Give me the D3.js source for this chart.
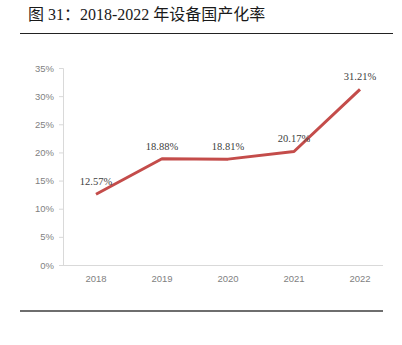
<!DOCTYPE html>
<html>
<head>
<meta charset="utf-8">
<script src="https://cdn.jsdelivr.net/npm/d3@7"></script>
<style>
  html, body { margin: 0; padding: 0; background: #fff; }
  svg { display: block; }
</style>
</head>
<body>
<svg id="chart" width="402" height="345"></svg>
<script>
// Domestic equipment localization rate, 2018–2022
const years = ["2018", "2019", "2020", "2021", "2022"];
const rates = [12.57, 18.88, 18.81, 20.17, 31.21];
const yTicks = [0, 5, 10, 15, 20, 25, 30, 35];

(function draw() {
  const svg = d3.select("#chart");
  const serif = "'Liberation Serif', 'Times New Roman', 'Noto Sans CJK SC', serif";

  // Title and rules
  svg.append("text")
    .attr("x", 28).attr("y", 20)
    .attr("font-family", serif)
    .attr("font-size", 16)
    .attr("fill", "#1a1a1a")
    .text("图 31：2018-2022 年设备国产化率");

  svg.append("line")
    .attr("x1", 20).attr("x2", 393).attr("y1", 33.5).attr("y2", 33.5)
    .attr("stroke", "#222").attr("stroke-width", 1.2);

  svg.append("line")
    .attr("x1", 20).attr("x2", 383).attr("y1", 311).attr("y2", 311)
    .attr("stroke", "#6e6e6e").attr("stroke-width", 2);

  // Plot area
  const plotLeft = 63, plotRight = 393, plotTop = 68, plotBottom = 265;

  const x = d3.scalePoint().domain(years).range([plotLeft, plotRight]).padding(0.5);
  const y = d3.scaleLinear().domain([0, 35]).range([plotBottom, plotTop]);

  // Y axis
  const yAxis = svg.append("g")
    .attr("transform", `translate(${plotLeft},0)`)
    .call(d3.axisLeft(y).tickValues(yTicks).tickSize(4).tickPadding(5)
      .tickFormat(d => d + "%"));
  yAxis.select(".domain").attr("stroke", "#d9d9d9");
  yAxis.selectAll(".tick line").attr("stroke", "#d9d9d9");
  yAxis.selectAll("text")
    .attr("font-family", "'Liberation Sans', Arial, sans-serif")
    .attr("font-size", 9.5)
    .attr("fill", "#7f7f7f");

  // X axis
  svg.append("line")
    .attr("x1", plotLeft).attr("x2", 383)
    .attr("y1", plotBottom + 0.5).attr("y2", plotBottom + 0.5)
    .attr("stroke", "#d9d9d9");

  svg.append("g").selectAll("text")
    .data(years).join("text")
    .attr("x", d => x(d))
    .attr("y", plotBottom + 17)
    .attr("text-anchor", "middle")
    .attr("font-family", "'Liberation Sans', Arial, sans-serif")
    .attr("font-size", 9.5)
    .attr("fill", "#7f7f7f")
    .text(d => d);

  // Line
  const pts = years.map((yr, i) => ({ yr, v: rates[i] }));
  svg.append("path")
    .datum(pts)
    .attr("fill", "none")
    .attr("stroke", "#c44c4a")
    .attr("stroke-width", 3)
    .attr("stroke-linejoin", "round")
    .attr("d", d3.line().x(d => x(d.yr)).y(d => y(d.v)));

  // Value labels
  svg.append("g").selectAll("text")
    .data(pts).join("text")
    .attr("x", d => x(d.yr))
    .attr("y", d => y(d.v) - 9)
    .attr("text-anchor", "middle")
    .attr("font-family", serif)
    .attr("font-size", 10.5)
    .attr("fill", "#404040")
    .text(d => d.v.toFixed(2) + "%");
})();
</script>
</body>
</html>
